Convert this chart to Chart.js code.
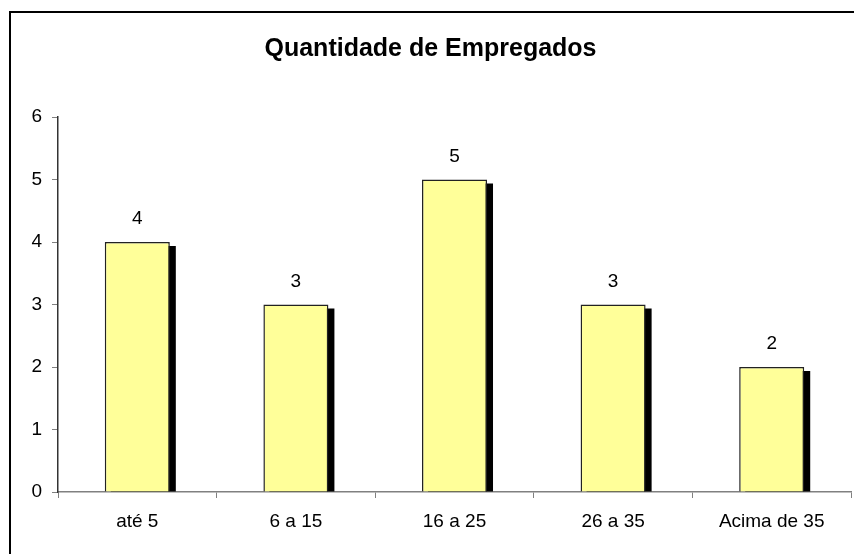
<!DOCTYPE html>
<html>
<head>
<meta charset="utf-8">
<script src="https://cdn.jsdelivr.net/npm/chart.js@4"></script>
<style>
  body { margin: 0; background: #fff; }
  canvas { display: block; }
</style>
</head>
<body>
<canvas id="chart" width="854" height="554"></canvas>
<script>
const categories = ["até 5", "6 a 15", "16 a 25", "26 a 35", "Acima de 35"];
const values = [4, 3, 5, 3, 2];
const yMin = 0;
const yMax = 6;
const title = "Quantidade de Empregados";

const FONT = "'Liberation Sans', Arial, sans-serif";

// black drop shadow to the right of each bar, excel style
const barShadow = {
    id: "barShadow",
    beforeDatasetsDraw(chart) {
        const ctx = chart.ctx;
        chart.getDatasetMeta(0).data.forEach(bar => {
            const left = bar.x - bar.width / 2 + 6;
            ctx.save();
            ctx.fillStyle = "#000";
            ctx.fillRect(left, bar.y + 4, bar.width, bar.base - bar.y - 4);
            ctx.restore();
        });
    }
};

// value labels above the bars
const valueLabels = {
    id: "valueLabels",
    afterDatasetsDraw(chart) {
        const ctx = chart.ctx;
        const ds = chart.data.datasets[0];
        ctx.save();
        ctx.font = "19px " + FONT;
        ctx.fillStyle = "#000";
        ctx.textAlign = "center";
        ctx.textBaseline = "middle";
        chart.getDatasetMeta(0).data.forEach((bar, i) => {
            ctx.fillText(ds.data[i], bar.x, bar.y - 23);
        });
        ctx.restore();
    }
};

// outer frame of the chart
const frame = {
    id: "frame",
    afterDraw(chart) {
        const ctx = chart.ctx;
        ctx.save();
        ctx.strokeStyle = "#000";
        ctx.lineWidth = 2;
        ctx.strokeRect(10, 12, 900, 600);
        ctx.restore();
    }
};

new Chart(document.getElementById("chart").getContext("2d"), {
    type: "bar",
    data: {
        labels: categories,
        datasets: [{
            data: values,
            backgroundColor: "#FFFF99",
            borderColor: "#222",
            borderWidth: 1.5,
            barPercentage: 0.41,
            categoryPercentage: 1
        }]
    },
    options: {
        responsive: false,
        animation: false,
        layout: { padding: { left: 10, top: 12, right: 3, bottom: 0 } },
        plugins: {
            legend: { display: false },
            tooltip: { enabled: false },
            title: {
                display: true,
                text: title,
                color: "#000",
                font: { family: FONT, size: 25, weight: "bold", lineHeight: 1.2 },
                padding: { top: 22, bottom: 53 }
            }
        },
        scales: {
            x: {
                grid: { drawOnChartArea: false, drawTicks: true, tickLength: 6, color: "#808080", offset: true },
                border: { color: "#808080", width: 1.5 },
                ticks: { color: "#000", font: { family: FONT, size: 19 }, padding: 12 },
                afterFit: s => { s.height = 62; }
            },
            y: {
                min: yMin,
                max: yMax,
                grid: { drawOnChartArea: false, drawTicks: true, tickLength: 6, color: "#808080" },
                border: { color: "#333", width: 1.5 },
                ticks: { stepSize: 1, color: "#000", font: { family: FONT, size: 19 }, padding: 10 },
                afterFit: s => { s.width = 48; }
            }
        }
    },
    plugins: [barShadow, valueLabels, frame]
});
</script>
</body>
</html>
